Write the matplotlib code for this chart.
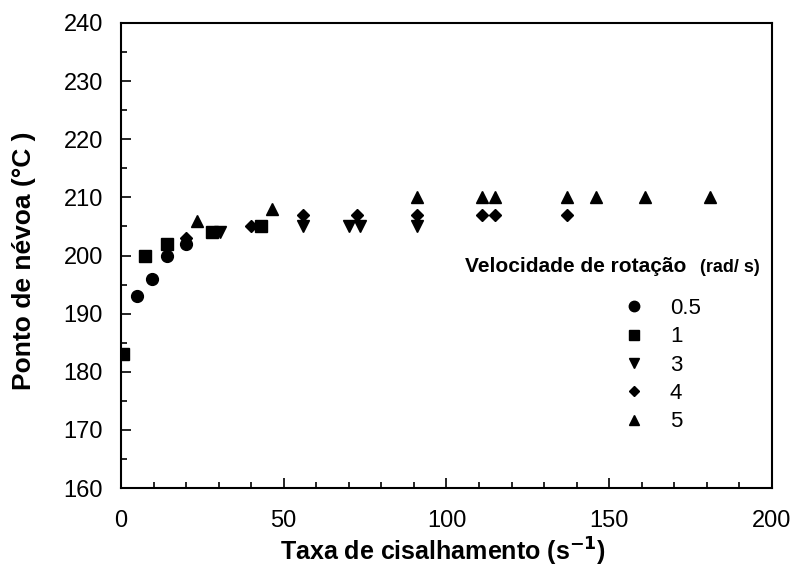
import matplotlib
matplotlib.use("Agg")
import matplotlib.pyplot as plt
from matplotlib.ticker import MultipleLocator
from matplotlib.lines import Line2D

plt.rcParams['font.family'] = ['Liberation Sans', 'DejaVu Sans']

# data: shear rate (1/s) vs cloud point (C)
x_05 = [5, 9.5, 14, 20]
y_05 = [193, 196, 200, 202]

x_1 = [0.5, 7.5, 14, 28, 43]
y_1 = [183, 200, 202, 204, 205]

x_3 = [30.5, 56, 70, 73.5, 91]
y_3 = [204, 205, 205, 205, 205]

x_4 = [20, 40, 56, 72.5, 91, 111, 115, 137]
y_4 = [203, 205, 207, 207, 207, 207, 207, 207]

x_5 = [23.5, 46.5, 91, 111, 115, 137, 146, 161, 181]
y_5 = [206, 208, 210, 210, 210, 210, 210, 210, 210]

series = [
    (x_05, y_05, 'o', '0.5'),
    (x_1, y_1, 's', '1'),
    (x_3, y_3, 'v', '3'),
    (x_4, y_4, 'D', '4'),
    (x_5, y_5, '^', '5'),
]
marker_sizes = {'o': 8.5, 's': 8.5, 'v': 8.5, 'D': 6.5, '^': 8.5}

fig = plt.figure(figsize=(7.98, 5.73), dpi=100)
ax = fig.add_axes([0.1516, 0.1483, 0.8158, 0.8116])

for xs, ys, m, lab in series:
    ax.plot(xs, ys, linestyle='none', marker=m, color='black',
            markersize=marker_sizes[m], label=lab)

ax.set_xlim(0, 200)
ax.set_ylim(160, 240)
ax.xaxis.set_major_locator(MultipleLocator(50))
ax.xaxis.set_minor_locator(MultipleLocator(10))
ax.yaxis.set_major_locator(MultipleLocator(10))
ax.yaxis.set_minor_locator(MultipleLocator(5))
ax.tick_params(which='both', direction='in', top=False, right=False,
               color='black', width=1.2)
ax.tick_params(which='major', length=7)
ax.tick_params(which='minor', length=4)
ax.tick_params(axis='x', which='major', labelsize=17, pad=16)
ax.tick_params(axis='y', which='major', labelsize=17, pad=13)
for lbl in ax.get_xticklabels() + ax.get_yticklabels():
    lbl.set_fontweight('medium')
for sp in ax.spines.values():
    sp.set_linewidth(1.5)
    sp.set_color('black')

fig.text(443 / 798, 1 - 552 / 573, 'Taxa de cisalhamento (s$^{\\mathbf{-1}}$)',
         ha='center', va='center', fontsize=18, fontweight='bold')
fig.text(24 / 798, 1 - 261 / 573, 'Ponto de névoa (°C )', rotation=90,
         ha='center', va='center', fontsize=19, fontweight='bold')

# legend
fig.text(465 / 798, 1 - 266 / 573, 'Velocidade de rotação',
         ha='left', va='center', fontsize=15, fontweight='bold')
fig.text(700 / 798, 1 - 267 / 573, '(rad/ s)',
         ha='left', va='center', fontsize=13, fontweight='bold')

handles = [Line2D([], [], linestyle='none', marker=m, color='black',
                  markersize=marker_sizes[m] - 1) for _, _, m, _ in series]
labels = [lab for _, _, _, lab in series]
leg = ax.legend(handles, labels, loc='upper left',
                bbox_to_anchor=((612 - 121) / 651, 1 - (287 - 23) / 465),
                frameon=False, fontsize=16, handlelength=1.0,
                handletextpad=1.1, labelspacing=0.33, borderpad=0)

fig.savefig('out.png', dpi=100)
